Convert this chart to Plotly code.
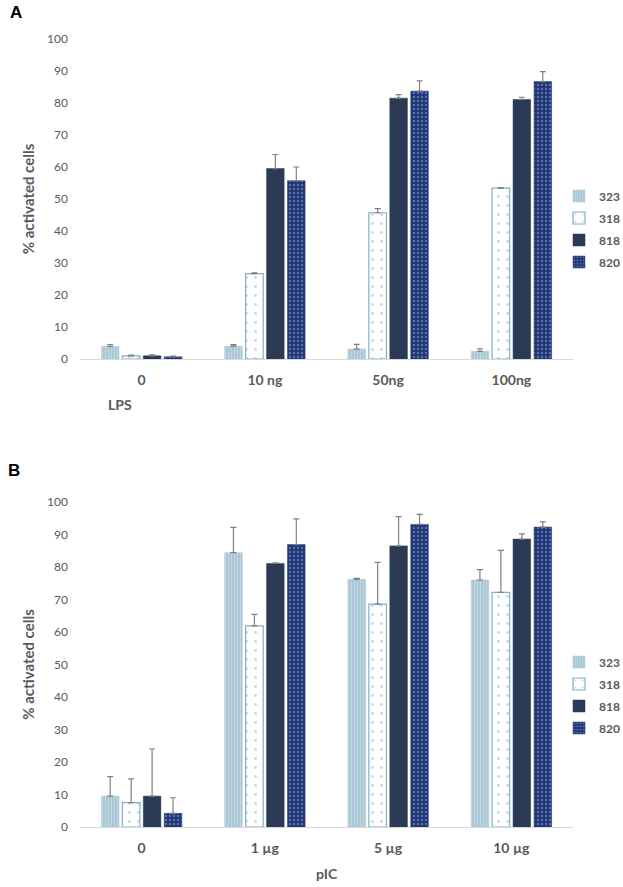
import plotly.graph_objects as go
from plotly.subplots import make_subplots

# Panel A - LPS
lps_doses = ['0', '10 ng', '50ng', '100ng']
lps_323 = [3.9, 4.0, 3.1, 2.4]
lps_323_err = [0.6, 0.5, 1.5, 0.8]
lps_318 = [1.0, 26.7, 45.7, 53.4]
lps_318_err = [0.2, 0.2, 1.3, 0.2]
lps_818 = [1.0, 59.5, 81.5, 81.1]
lps_818_err = [0.3, 4.4, 1.1, 0.7]
lps_820 = [0.7, 55.7, 83.7, 86.7]
lps_820_err = [0.2, 4.3, 3.2, 3.1]

# Panel B - pIC
pic_doses = ['0', '1 µg', '5 µg', '10 µg']
pic_323 = [9.5, 84.4, 76.2, 76.0]
pic_323_err = [6.0, 7.8, 0.3, 3.2]
pic_318 = [7.5, 61.9, 68.6, 72.2]
pic_318_err = [7.3, 3.5, 12.8, 12.9]
pic_818 = [9.5, 81.1, 86.5, 88.6]
pic_818_err = [14.5, 0.2, 9.0, 1.6]
pic_820 = [4.2, 86.9, 93.1, 92.3]
pic_820_err = [4.8, 7.9, 3.1, 1.6]

cell_lines = ['323', '318', '818', '820']

W, H = 623, 887
GRAY = '#595959'
FONT = 'Lato'

styles = {
    '323': dict(color='#a9c7d4', line=dict(color='#a9c7d4', width=0.5),
                pattern=dict(shape='|', fgcolor='#dbe9ef', bgcolor='#a9c7d4', size=3, solidity=0.3)),
    '318': dict(color='white', line=dict(color='#7fb1c3', width=1.2),
                pattern=dict(shape='.', fgcolor='#86b8c9', bgcolor='white', size=9, solidity=0.08)),
    '818': dict(color='#2b3a55', line=dict(color='#2b3a55', width=0.5)),
    '820': dict(color='#1f3576', line=dict(color='#1f3576', width=0.5),
                pattern=dict(shape='.', fgcolor='#9aaad0', bgcolor='#1f3576', size=4, solidity=0.3)),
}

fig = make_subplots(rows=2, cols=1)

panels = [
    (1, 'legend', lps_doses, [lps_323, lps_318, lps_818, lps_820],
     [lps_323_err, lps_318_err, lps_818_err, lps_820_err]),
    (2, 'legend2', pic_doses, [pic_323, pic_318, pic_818, pic_820],
     [pic_323_err, pic_318_err, pic_818_err, pic_820_err]),
]

for row, leg, doses, series, errs in panels:
    for name, vals, err in zip(cell_lines, series, errs):
        fig.add_trace(go.Bar(
            x=doses, y=vals, name=name,
            marker=styles[name],
            legend=leg, legendgroup=f'{leg}_{name}',
            error_y=dict(type='data', array=err, arrayminus=[0] * len(err),
                         symmetric=False, color='#808080', thickness=1.2, width=3),
        ), row=row, col=1)

x0, x1 = 80 / W, 573 / W
legend_style = dict(xanchor='left', yanchor='middle', tracegroupgap=3, itemwidth=30,
                    font=dict(size=12, color=GRAY, family=FONT, weight='bold'),
                    bgcolor='rgba(0,0,0,0)')
fig.update_layout(
    width=W, height=H,
    margin=dict(l=0, r=0, t=0, b=0, autoexpand=False),
    plot_bgcolor='white', paper_bgcolor='white',
    barmode='group', bargap=0.32, bargroupgap=0.16,
    font=dict(family=FONT, color=GRAY, size=12),
    xaxis=dict(domain=[x0, x1], anchor='y'),
    yaxis=dict(domain=[1 - 359 / H, 1 - 39 / H], anchor='x'),
    xaxis2=dict(domain=[x0, x1], anchor='y2'),
    yaxis2=dict(domain=[1 - 827 / H, 1 - 502 / H], anchor='x2'),
    legend=dict(x=559 / W, y=1 - 229 / H, **legend_style),
    legend2=dict(x=559 / W, y=1 - 695 / H, **legend_style),
    showlegend=True,
)

fig.update_xaxes(showline=True, linecolor='#d9d9d9', linewidth=1.2, showgrid=False,
                 ticks='', ticklabelstandoff=8,
                 tickfont=dict(size=14, color=GRAY, family=FONT, weight='bold'))
fig.update_yaxes(range=[0, 100], dtick=10, showgrid=False, zeroline=False, showline=False,
                 ticks='', ticklabelstandoff=11,
                 tickfont=dict(size=12, color=GRAY, family=FONT),
                 title=dict(text='% activated cells', standoff=8,
                            font=dict(size=15, color=GRAY, family=FONT, weight='bold')))

# panel letters and x-axis titles
for txt, x, y in [('A', 8, 12), ('B', 6, 470)]:
    fig.add_annotation(text=f'<b>{txt}</b>', x=x / W, y=1 - y / H, xref='paper', yref='paper',
                       xanchor='left', yanchor='middle', showarrow=False,
                       font=dict(size=17, color='black', family='Liberation Sans'))
fig.add_annotation(text='<b>LPS</b>', x=120 / W, y=1 - 405 / H, xref='paper', yref='paper',
                   xanchor='center', yanchor='middle', showarrow=False,
                   font=dict(size=14, color=GRAY, family=FONT))
fig.add_annotation(text='<b>pIC</b>', x=327 / W, y=1 - 873 / H, xref='paper', yref='paper',
                   xanchor='center', yanchor='middle', showarrow=False,
                   font=dict(size=14, color=GRAY, family=FONT))

# default page margin would offset the 623px figure inside the 623px window
fig.write_html('out.html', config={'displayModeBar': False},
               post_script="document.body.style.margin = '0';")
